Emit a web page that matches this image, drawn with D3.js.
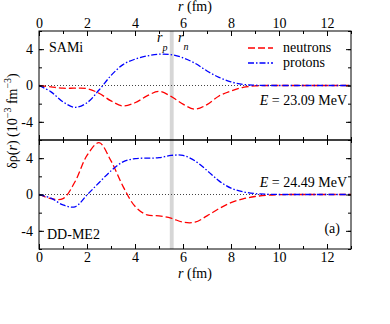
<!DOCTYPE html>
<html lang="en">
<head>
<meta charset="UTF-8">
<title>Transition density</title>
<script src="https://cdn.jsdelivr.net/npm/d3@7"></script>
<style>
  body { margin: 0; background: #fff; }
  svg { display: block; font-family: "Liberation Serif", "DejaVu Serif", serif; }
  .tick text { font-size: 14px; font-family: "Liberation Serif", serif; fill: #000; }
  .tick line { stroke: #000; }
</style>
</head>
<body>
<div id="chart"></div>
<script>
// radial grid (fm)
const rGrid = [0,0.5,1,1.5,2,2.5,3,3.5,4,4.5,5,5.5,6,6.5,7,7.5,8,8.5,9,9.5,10,10.5,11,11.5,12,12.5,13]

// SAMi, E = 23.09 MeV
const samiNeutrons = [0,-0.15,-0.3,-0.3,-0.35,-0.85,-1.7,-2.25,-1.9,-1.15,-0.65,-1.2,-2.05,-2.6,-2.1,-1.15,-0.6,-0.2,-0.05,0,0,0,0,0,0,0,0]
const samiProtons  = [0,-0.7,-1.8,-2.4,-1.9,-0.5,1.1,2.3,2.9,3.25,3.45,3.4,3.05,2.45,1.6,0.9,0.4,0.12,0.03,0,0,0,0,0,0,0,0]

// DD-ME2, E = 24.49 MeV
const ddNeutrons = [0,-0.45,-0.45,1.4,4.3,5.7,3.7,0.9,-1.3,-2.25,-2.35,-2.6,-3.05,-3.05,-2.35,-1.55,-0.9,-0.48,-0.22,-0.08,-0.02,0,0,0,0,0,0]
const ddProtons  = [0,-0.4,-1.15,-1.35,-0.05,1.3,2.6,3.6,3.95,4.0,4.05,4.3,4.3,3.7,2.65,1.5,0.7,0.3,0.1,0.03,0,0,0,0,0,0,0]

const xTicks = [0,2,4,6,8,10,12]
const yTicks = [-4,0,4]
const rBand = [5.45, 5.61]   // r_p .. r_n

const w = 390, h = 324
const left = 39, right = 351
const panels = [
  {name: 'SAMi', energy: '23.09', top: 31, bottom: 140, neutrons: samiNeutrons, protons: samiProtons},
  {name: 'DD-ME2', energy: '24.49', top: 140, bottom: 249, neutrons: ddNeutrons, protons: ddProtons}
]

const svg = d3.select('#chart').append('svg').attr('width', w).attr('height', h)

const x = d3.scaleLinear().domain([0, 13]).range([left, right])

// shaded band through both panels
svg.append('rect')
  .attr('x', x(rBand[0])).attr('width', x(rBand[1]) - x(rBand[0]))
  .attr('y', panels[0].top).attr('height', panels[1].bottom - panels[0].top)
  .attr('fill', '#d6d6d6')

const line = y => d3.line().x((d, i) => x(rGrid[i])).y(d => y(d)).curve(d3.curveCatmullRom.alpha(0.5))

panels.forEach((p, k) => {
  const y = d3.scaleLinear().domain([-6, 6]).range([p.bottom, p.top])
  const g = svg.append('g')

  // zero line
  g.append('line')
    .attr('x1', x(0)).attr('x2', x(13)).attr('y1', y(0)).attr('y2', y(0))
    .attr('stroke', '#444').attr('stroke-width', 1).attr('stroke-dasharray', '1,2')

  g.append('path').datum(p.neutrons)
    .attr('d', line(y)).attr('fill', 'none')
    .attr('stroke', '#ff0000').attr('stroke-width', 1.3).attr('stroke-dasharray', '7,3')
  g.append('path').datum(p.protons)
    .attr('d', line(y)).attr('fill', 'none')
    .attr('stroke', '#0000ff').attr('stroke-width', 1.3).attr('stroke-dasharray', '6,2,1.5,2')

  // ticks, all pointing inward
  const minorX = d3.range(0, 14, 1)
  const minorY = d3.range(-6, 7, 2)
  const axes = g.append('g').attr('font-family', 'Liberation Serif').attr('font-size', 14)
  axes.append('g').attr('transform', `translate(0,${p.top})`)
    .call(d3.axisTop(x).tickValues(minorX).tickSize(-3).tickFormat(''))
  axes.append('g').attr('transform', `translate(0,${p.bottom})`)
    .call(d3.axisBottom(x).tickValues(minorX).tickSize(-3).tickFormat(''))
  axes.append('g').attr('transform', `translate(0,${p.top})`)
    .call(d3.axisTop(x).tickValues(xTicks).tickSize(-5).tickPadding(3).tickFormat(k === 0 ? d3.format('d') : ''))
  axes.append('g').attr('transform', `translate(0,${p.bottom})`)
    .call(d3.axisBottom(x).tickValues(xTicks).tickSize(-5).tickPadding(3).tickFormat(k === 1 ? d3.format('d') : ''))
  axes.append('g').attr('transform', `translate(${left},0)`)
    .call(d3.axisLeft(y).tickValues(minorY).tickSize(-3).tickFormat(''))
  axes.append('g').attr('transform', `translate(${right},0)`)
    .call(d3.axisRight(y).tickValues(minorY).tickSize(-3).tickFormat(''))
  axes.append('g').attr('transform', `translate(${left},0)`)
    .call(d3.axisLeft(y).tickValues(yTicks).tickSize(-5).tickPadding(6).tickFormat(d => d < 0 ? '-' + Math.abs(d) : d))
  axes.append('g').attr('transform', `translate(${right},0)`)
    .call(d3.axisRight(y).tickValues(yTicks).tickSize(-5).tickFormat(''))
  axes.selectAll('g').attr('font-family', null).attr('font-size', null)
  axes.selectAll('.domain').remove()

  g.append('rect')
    .attr('x', left).attr('y', p.top).attr('width', right - left).attr('height', p.bottom - p.top)
    .attr('fill', 'none').attr('stroke', '#000').attr('stroke-width', 1)

  // energy label
  const e = g.append('text').attr('x', 347).attr('y', k === 0 ? 105 : 187)
    .attr('text-anchor', 'end').attr('font-size', 14)
  e.append('tspan').attr('font-style', 'italic').text('E')
  e.append('tspan').text(` = ${p.energy} MeV`)

  g.append('text').attr('x', k === 0 ? 49 : 47).attr('y', k === 0 ? 52 : 239)
    .attr('font-size', 14).text(p.name)
})

// legend
const legend = svg.append('g')
legend.append('line').attr('x1', 248).attr('x2', 273).attr('y1', 48).attr('y2', 48)
  .attr('stroke', '#ff0000').attr('stroke-width', 1.3).attr('stroke-dasharray', '7,3')
legend.append('text').attr('x', 283).attr('y', 51.5).attr('font-size', 14).text('neutrons')
legend.append('line').attr('x1', 248).attr('x2', 273).attr('y1', 63).attr('y2', 63)
  .attr('stroke', '#0000ff').attr('stroke-width', 1.3).attr('stroke-dasharray', '6,2,1.5,2')
legend.append('text').attr('x', 283).attr('y', 66.5).attr('font-size', 14).text('protons')

// r_p and r_n markers
const rp = svg.append('text').attr('x', 157).attr('y', 42).attr('font-size', 14)
rp.append('tspan').attr('font-style', 'italic').text('r')
rp.append('tspan').attr('font-style', 'italic').attr('font-size', 10).attr('dy', 9).text('p')
const rn = svg.append('text').attr('x', 178).attr('y', 42).attr('font-size', 14)
rn.append('tspan').attr('font-style', 'italic').text('r')
rn.append('tspan').attr('font-style', 'italic').attr('font-size', 10).attr('dy', 8).text('n')

svg.append('text').attr('x', 340).attr('y', 233).attr('text-anchor', 'end').attr('font-size', 14).text('(a)')

// axis titles
const xTitle = (yy) => {
  const t = svg.append('text').attr('x', 195).attr('y', yy).attr('text-anchor', 'middle').attr('font-size', 14)
  t.append('tspan').attr('font-style', 'italic').text('r')
  t.append('tspan').text(' (fm)')
}
xTitle(11)
xTitle(278)

const yTitle = svg.append('text').attr('transform', 'translate(17,121) rotate(-90)')
  .attr('text-anchor', 'middle').attr('font-size', 14)
yTitle.append('tspan').text('δρ(')
yTitle.append('tspan').attr('font-style', 'italic').text('r')
yTitle.append('tspan').text(') (10')
yTitle.append('tspan').attr('font-size', 10).attr('dy', -6).text('−3')
yTitle.append('tspan').attr('dy', 6).text(' fm')
yTitle.append('tspan').attr('font-size', 10).attr('dy', -6).text('−3')
yTitle.append('tspan').attr('dy', 6).text(')')
</script>
</body>
</html>
